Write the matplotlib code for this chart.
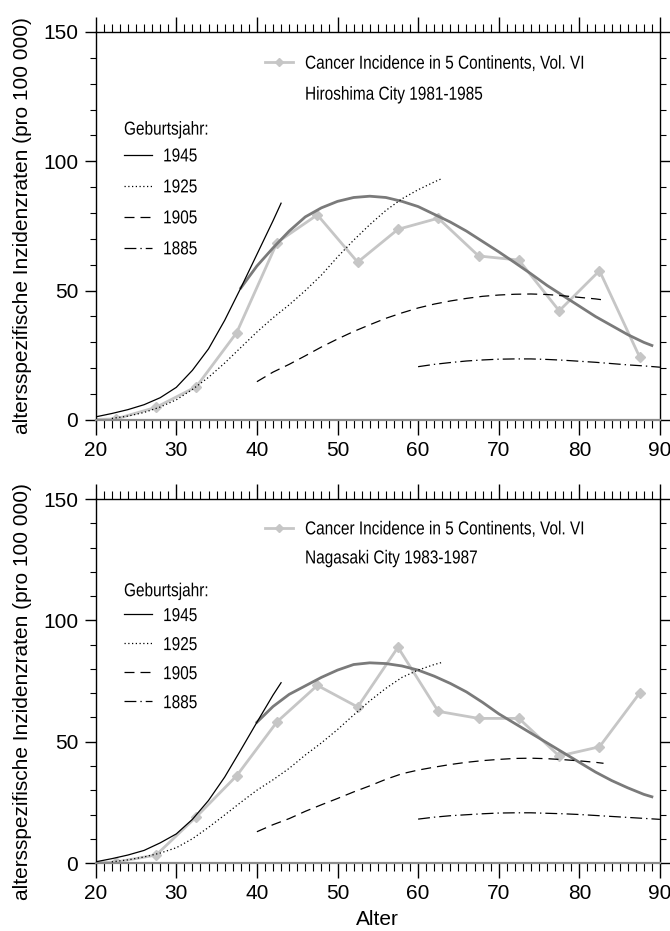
import matplotlib
matplotlib.use("Agg")
import matplotlib.pyplot as plt
from matplotlib.font_manager import FontProperties
from matplotlib.lines import Line2D
from matplotlib.offsetbox import AnchoredOffsetbox, DrawingArea, HPacker, VPacker
from matplotlib.patches import PathPatch
from matplotlib.textpath import TextPath
from matplotlib.ticker import MultipleLocator
from matplotlib.transforms import Affine2D

# observed age-specific rates (5-year age groups, CI5 Vol. VI)
obs_age = [17.5, 22.5, 27.5, 32.5, 37.5, 42.5, 47.5, 52.5, 57.5, 62.5, 67.5, 72.5, 77.5, 82.5, 87.5]
hiroshima_obs = [0.0, 0.4, 4.9, 12.9, 33.8, 68.6, 79.3, 61.0, 73.7, 78.0, 63.4, 61.8, 42.2, 57.7, 24.2]
nagasaki_obs = [0.0, 0.4, 3.3, 19.1, 36.0, 58.2, 73.2, 64.3, 88.9, 62.5, 59.6, 59.6, 44.1, 47.9, 70.1]

# cross-sectional model curve
fit_age_hiroshima = [38, 40, 42, 44, 46, 48, 50, 52, 54, 56, 58, 60, 62, 64, 66, 68, 70, 72, 74,
                     76, 78, 80, 82, 84, 86, 88, 89]
fit_hiroshima = [51.0, 59.5, 66.5, 73.0, 78.5, 82.0, 84.5, 86.0, 86.5, 86.0, 84.5, 82.5, 79.5, 76.5,
                 73.0, 69.0, 65.0, 60.8, 56.5, 52.0, 48.0, 44.0, 40.0, 36.5, 33.0, 30.0, 28.8]
fit_age_nagasaki = [40, 42, 44, 46, 48, 50, 52, 54, 56, 58, 60, 62, 64, 66, 68, 70, 72, 74, 76,
                    78, 80, 82, 84, 86, 88, 89]
fit_nagasaki = [58.0, 64.5, 69.5, 73.0, 76.5, 79.5, 81.8, 82.5, 82.2, 81.2, 79.5, 77.0, 74.0, 70.5,
                66.2, 61.5, 57.5, 53.5, 49.5, 45.5, 41.5, 37.5, 34.0, 31.0, 28.3, 27.3]

# birth cohorts
cohort_years = ["1945", "1925", "1905", "1885"]
age_1945 = [20, 22, 24, 26, 28, 30, 32, 34, 36, 38, 40, 42, 43]
age_1925 = [22, 24, 26, 28, 30, 32, 34, 36, 38, 40, 42, 44, 46, 48, 50, 52, 54, 56, 58, 60, 62, 63]
age_1905 = [40, 42, 44, 46, 48, 50, 52, 54, 56, 58, 60, 62, 64, 66, 68, 70, 72, 74, 76, 78, 80, 82, 83]
age_1885 = [60, 62, 64, 66, 68, 70, 72, 74, 76, 78, 80, 82, 84, 86, 88, 90]

hiroshima_1945 = [1.2, 2.5, 4.0, 5.9, 8.6, 12.6, 19.2, 27.5, 38.5, 51.0, 64.0, 77.0, 83.8]
hiroshima_1925 = [0.6, 1.5, 2.9, 5.0, 7.8, 11.8, 16.5, 22.0, 28.0, 34.0, 39.5, 44.5, 50.0, 56.0,
                  63.0, 69.5, 75.5, 81.0, 85.5, 89.0, 92.0, 93.4]
hiroshima_1905 = [14.8, 18.5, 21.5, 24.8, 28.2, 31.3, 34.2, 36.8, 39.3, 41.4, 43.3, 44.8, 46.0,
                  47.0, 47.8, 48.3, 48.6, 48.7, 48.5, 48.0, 47.4, 46.8, 46.4]
hiroshima_1885 = [20.6, 21.5, 22.2, 22.8, 23.2, 23.5, 23.6, 23.6, 23.4, 23.1, 22.7, 22.3, 21.8,
                  21.3, 20.9, 20.4]

nagasaki_1945 = [0.5, 1.8, 3.3, 5.2, 8.3, 12.0, 18.0, 25.8, 35.4, 46.6, 58.0, 69.2, 74.3]
nagasaki_1925 = [0.5, 1.3, 2.5, 4.1, 6.3, 10.0, 14.7, 19.8, 25.0, 30.0, 34.3, 39.0, 44.5, 49.5,
                 55.0, 61.0, 66.8, 72.0, 76.5, 79.5, 81.8, 82.7]
nagasaki_1905 = [12.9, 15.8, 18.3, 21.3, 24.0, 26.6, 29.3, 31.8, 34.5, 36.8, 38.3, 39.5, 40.6,
                 41.5, 42.2, 42.7, 43.1, 43.2, 43.0, 42.6, 42.1, 41.5, 41.1]
nagasaki_1885 = [18.1, 18.9, 19.5, 19.9, 20.3, 20.6, 20.7, 20.7, 20.5, 20.3, 20.0, 19.6, 19.2,
                 18.8, 18.4, 18.0]

source = "Cancer Incidence in 5 Continents, Vol. VI"
regions = ["Hiroshima City 1981-1985", "Nagasaki City 1983-1987"]

cohort_styles = ["-", (0, (1, 2)), (0, (8, 4.8)), (0, (9.5, 3.2, 1.1, 3.2))]
OBS_COLOR = "#c6c6c6"
FIT_COLOR = "#7a7a7a"

plt.rcParams["font.family"] = ["Liberation Sans", "DejaVu Sans"]

# legend text is set in a condensed face: glyph outlines squeezed horizontally
LEG_SIZE = 13.5
SQUEEZE = 0.82
LEG_FONT = FontProperties(family="Liberation Sans")


def narrow_label(s):
    path = TextPath((0, 0), s, size=LEG_SIZE, prop=LEG_FONT)
    width = path.get_extents().x1 * SQUEEZE
    box = DrawingArea(width, LEG_SIZE, 0, 0.25 * LEG_SIZE, clip=False)
    patch = PathPatch(path, facecolor="black", edgecolor="none", lw=0)
    patch.set_transform(Affine2D().scale(SQUEEZE, 1) + box.get_transform())
    box.add_artist(patch)
    return box


def handle_box(line=None, **kw):
    w = 1.5 * LEG_SIZE
    box = DrawingArea(w, LEG_SIZE, 0, 0.25 * LEG_SIZE, clip=False)
    if line:
        y = 0.36 * LEG_SIZE
        box.add_artist(Line2D([0, w / 2, w], [y, y, y], **kw))
    return box


def legend_block(ax, rows, anchor, step, gap, title=None):
    entries = [HPacker(children=[h, narrow_label(t)], sep=gap, pad=0, align="center")
               for h, t in rows]
    block = VPacker(children=entries, sep=step - LEG_SIZE, pad=0, align="left")
    if title is not None:
        block = VPacker(children=[narrow_label(title), block], sep=step - 3 - LEG_SIZE,
                        pad=0, align="left")
    box = AnchoredOffsetbox(loc="upper left", child=block, pad=0, borderpad=0,
                            frameon=False, bbox_to_anchor=anchor,
                            bbox_transform=ax.transAxes)
    ax.add_artist(box)


def draw_panel(ax, obs, fit_age, fit, cohorts, region, step):
    ax.plot(obs_age, obs, color=OBS_COLOR, lw=2.0, marker="D", ms=5.5, zorder=1)
    ax.plot(fit_age, fit, color=FIT_COLOR, lw=2.0, zorder=2)
    for (age, vals), ls in zip(cohorts, cohort_styles):
        ax.plot(age, vals, color="black", lw=0.9, ls=ls, zorder=3)

    ax.set_xlim(20, 90)
    ax.set_ylim(0, 150)
    ax.xaxis.set_major_locator(MultipleLocator(10))
    ax.xaxis.set_minor_locator(MultipleLocator(1))
    ax.yaxis.set_major_locator(MultipleLocator(50))
    ax.yaxis.set_minor_locator(MultipleLocator(10))
    ax.tick_params(axis="x", which="major", direction="out", length=10.8, width=1.0,
                   top=True, bottom=True, labelsize=15, pad=4)
    ax.tick_params(axis="x", which="minor", direction="out", length=5.5, width=0.8,
                   top=True, bottom=True)
    ax.tick_params(axis="y", which="major", direction="out", length=7.7, width=1.0,
                   left=True, right=True, labelsize=15, pad=5)
    ax.tick_params(axis="y", which="minor", direction="out", length=4.3, width=0.8,
                   left=True, right=True)
    for side in ["top", "left", "right"]:
        ax.spines[side].set_linewidth(1.0)
    ax.spines["bottom"].set_color("#8c8c8c")
    ax.spines["bottom"].set_linewidth(1.6)

    ax.set_ylabel("altersspezifische Inzidenzraten (pro 100 000)", fontsize=15)

    legend_block(ax,
                 [(handle_box(True, color=OBS_COLOR, lw=2.0, marker="D", ms=4.5,
                              markevery=[1]), source),
                  (handle_box(), region)],
                 anchor=(0.300, 0.9415), step=step, gap=8.6)
    legend_block(ax,
                 [(handle_box(True, color="black", lw=0.9, ls=ls), year)
                  for ls, year in zip(cohort_styles, cohort_years)],
                 anchor=(0.0502, 0.7716), step=step, gap=7.9, title="Geburtsjahr:")


fig = plt.figure(figsize=(6.7, 9.31), dpi=100)
ax_top = fig.add_axes([0.1428, 0.5489, 0.8422, 0.4168])
ax_bot = fig.add_axes([0.1428, 0.0730, 0.8422, 0.3910])

draw_panel(ax_top, hiroshima_obs, fit_age_hiroshima, fit_hiroshima,
           [(age_1945, hiroshima_1945), (age_1925, hiroshima_1925),
            (age_1905, hiroshima_1905), (age_1885, hiroshima_1885)], regions[0], step=22.3)
draw_panel(ax_bot, nagasaki_obs, fit_age_nagasaki, fit_nagasaki,
           [(age_1945, nagasaki_1945), (age_1925, nagasaki_1925),
            (age_1905, nagasaki_1905), (age_1885, nagasaki_1885)], regions[1], step=20.9)

ax_top.yaxis.set_label_coords(-0.112, 0.5)
ax_bot.yaxis.set_label_coords(-0.112, 0.47)
ax_bot.set_xlabel("Alter", fontsize=15, labelpad=5)

fig.savefig("out.png", dpi=100)
